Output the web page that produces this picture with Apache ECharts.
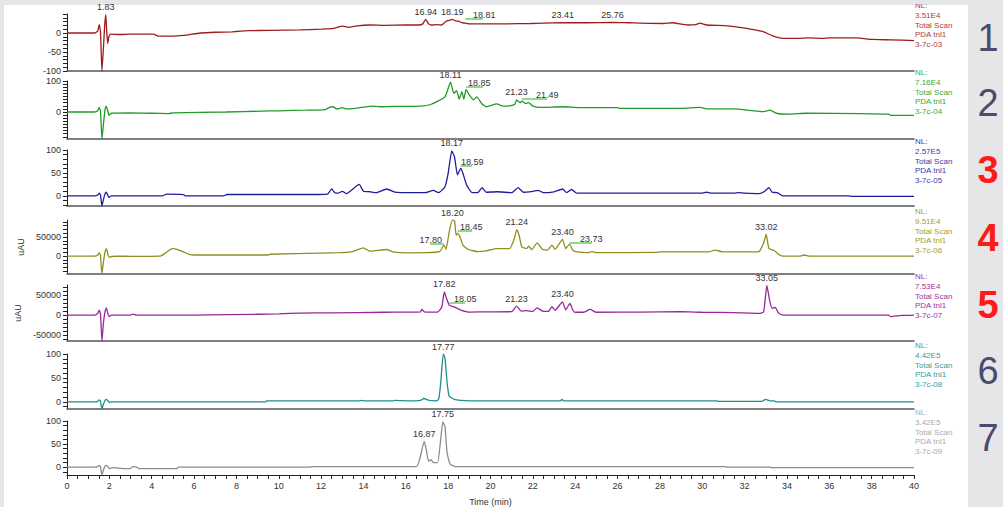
<!DOCTYPE html>
<html><head><meta charset="utf-8">
<style>
html,body{margin:0;padding:0;background:#e6e6e8;overflow:hidden;}
#paper{position:absolute;left:4px;top:5px;width:964px;height:502px;background:#ffffff;}
#c{position:absolute;left:0;top:0;width:1003px;height:507px;}
</style>
<script src="https://cdn.jsdelivr.net/npm/echarts@6/dist/echarts.min.js"></script>
</head><body><div id="paper"></div><div id="c"></div>
<script>
// ---------- DATA (time in min, response) ----------
const trace1 = [[0,0],[1.3,0],[1.45,5],[1.52,22],[1.58,5],[1.65,-100],[1.72,-40],[1.78,20],[1.83,48],[1.87,10],[1.92,-28],[1.98,-10],[2.05,-3],[2.5,-4],[3.0,-3],[4.1,-3],[4.3,-8],[5.0,-8],[5.5,-6],[6.3,0],[7.0,2],[7.8,3],[8.0,4],[8.6,6],[9.5,7],[11.0,8],[12.0,10],[12.6,12],[13.0,18],[13.3,15],[13.7,19],[14.3,21],[15.0,20],[16.0,21],[16.6,21],[16.8,24],[16.94,36],[17.08,24],[17.2,21],[17.5,22],[17.7,21],[17.9,31],[18.05,33],[18.19,36],[18.35,32],[18.5,31],[18.65,27],[18.81,26],[19.0,24],[19.65,24],[20.6,24],[21.9,25],[22.5,26],[23.41,27],[24.5,27],[25.78,28],[26.5,27],[28.15,25],[28.6,27],[29.3,21],[29.7,22],[29.89,26],[30.2,21],[31.2,19],[32.1,12],[32.5,8],[32.9,3],[33.3,-7],[33.8,-14],[34.5,-14],[35.0,-13],[35.7,-14],[36.0,-13],[37.3,-13],[38.0,-17],[38.9,-18],[40,-20]];
const trace2 = [[0,0],[1.3,0],[1.45,4],[1.52,15],[1.58,4],[1.65,-87],[1.72,-40],[1.8,10],[1.85,19],[1.92,5],[1.98,-10],[2.1,-4],[3.0,-3],[4.0,-4],[4.8,-5],[5.0,-3],[7.5,0],[9.2,3],[10.0,4],[11.3,6],[12.2,8],[12.4,15],[12.55,17],[12.75,10],[13.0,14],[13.2,10],[13.5,11],[14.4,19],[14.8,17],[15.5,18],[16.7,19],[17.2,25],[17.85,49],[18.11,96],[18.27,60],[18.4,69],[18.52,42],[18.65,66],[18.74,42],[18.85,73],[19.0,55],[19.2,39],[19.35,49],[19.6,26],[19.8,17],[20.3,26],[20.6,19],[20.9,20],[21.15,25],[21.23,39],[21.4,30],[21.49,35],[21.65,28],[21.8,30],[22.0,19],[22.4,15],[23.4,17],[24.2,14],[26.0,14],[26.1,12],[28.6,12],[29.0,12],[29.9,15],[30.2,10],[31.5,10],[32.9,1],[33.2,6],[33.5,-4],[34.1,-7],[34.9,-4],[37.5,-5],[38.8,-7],[38.9,-11],[40,-11]];
const trace3 = [[0,0],[1.3,0],[1.45,2],[1.52,6],[1.58,2],[1.65,-22],[1.72,-8],[1.8,5],[1.85,8],[1.92,2],[1.98,-3],[2.1,0],[4.5,0],[4.7,4],[5.5,3],[5.6,0],[7.4,0],[7.55,3],[11.5,3],[12.3,4],[12.5,15],[12.65,7],[12.8,6],[13.0,10],[13.2,5],[13.8,25],[14.0,10],[14.3,9],[14.6,7],[15.1,15],[15.5,8],[16.0,7],[16.9,7],[17.3,12],[17.55,7],[17.85,20],[18.0,49],[18.17,98],[18.3,85],[18.44,46],[18.59,60],[18.7,49],[18.87,24],[19.1,8],[19.4,7],[19.6,18],[19.8,8],[20.3,9],[21.0,7],[21.3,18],[21.55,8],[22.0,10],[22.25,12],[22.5,7],[23.0,9],[23.4,15],[23.6,7],[23.83,14],[24.07,6],[25.0,6],[30.0,6],[30.2,8],[30.4,6],[31.5,6],[31.7,7],[32.0,6],[32.7,5],[32.95,10],[33.15,18],[33.3,8],[33.55,7],[33.8,0],[36.9,0],[37.1,-1],[40,-1]];
const trace4 = [[0,0],[1.3,0],[1.45,3000],[1.52,8700],[1.58,3000],[1.65,-47000],[1.72,-15000],[1.8,12000],[1.86,20000],[1.93,5000],[1.99,-3500],[2.1,-1000],[2.5,0],[3.0,-500],[4.4,0],[4.6,6000],[4.85,17000],[5.0,20000],[5.2,18000],[5.5,11000],[5.8,4000],[6.0,3000],[9.5,3000],[9.6,5000],[12.0,8000],[12.9,9000],[13.4,11000],[14.0,22000],[14.3,13000],[15.1,17500],[15.4,11000],[16.2,8700],[17.0,9000],[17.6,12000],[17.8,29000],[17.9,18000],[18.05,64000],[18.2,95000],[18.3,93000],[18.38,55000],[18.45,60000],[18.55,52000],[18.7,29000],[18.95,17500],[19.4,12000],[19.8,14000],[20.3,20000],[20.9,20000],[21.1,42000],[21.24,70000],[21.35,55000],[21.48,24000],[21.7,20000],[21.8,26000],[21.95,17000],[22.2,35000],[22.45,18000],[22.7,16000],[22.9,29000],[23.05,18000],[23.4,44000],[23.55,20000],[23.73,31500],[23.9,15000],[24.1,11000],[24.6,9000],[24.8,12000],[25.0,9000],[27.8,10000],[28.0,11000],[30.3,11000],[30.6,16000],[31.0,11000],[32.4,11000],[32.7,13000],[32.9,35000],[33.02,57000],[33.15,20000],[33.4,15000],[33.6,5000],[33.8,0],[34.6,0],[34.8,3000],[35.1,0],[40,0]];
const trace5 = [[0,0],[1.3,0],[1.45,4000],[1.52,12500],[1.58,3000],[1.65,-65000],[1.72,-20000],[1.8,10000],[1.86,18000],[1.93,4000],[1.99,-4000],[2.1,0],[3.0,0],[3.1,2500],[3.3,0],[6.0,0],[9.0,2000],[10.0,3000],[11.0,5000],[12.5,5500],[15.0,7000],[16.0,7500],[16.7,8000],[16.75,14000],[16.9,7500],[17.5,7500],[17.7,20000],[17.82,58000],[17.92,42000],[18.05,25000],[18.3,20000],[18.6,12500],[19.0,7500],[20.0,8000],[21.0,8500],[21.23,22500],[21.45,10000],[21.7,11000],[22.0,9000],[22.2,18000],[22.5,9000],[22.75,10000],[22.9,21000],[23.05,12000],[23.4,33000],[23.55,13000],[23.75,29000],[23.95,7500],[24.4,7000],[24.7,14000],[25.0,7000],[27.0,7500],[29.0,8500],[30.0,7000],[31.5,6000],[32.7,4000],[32.9,8000],[33.05,74000],[33.18,37500],[33.3,17000],[33.45,19000],[33.6,5000],[33.8,0],[38.8,0],[38.9,-4000],[39.4,-1000],[40,0]];
const trace6 = [[0,0],[1.3,0],[1.45,1],[1.52,4],[1.58,1],[1.65,-15],[1.72,-5],[1.8,3],[1.87,5],[1.95,1],[2.0,-1],[2.1,0],[9.38,0],[9.42,2],[13.8,2],[13.9,3],[14.0,2],[15.4,2],[15.5,3],[16.2,2],[16.7,3],[16.85,7],[17.1,3],[17.4,2],[17.55,5],[17.65,40],[17.77,100],[17.85,92],[17.95,40],[18.05,12],[18.3,5],[18.6,3],[19.0,2],[23.3,2],[23.38,5],[23.45,2],[30.7,2],[30.75,1],[32.8,1],[33.0,5],[33.2,2],[33.4,2],[33.5,0],[40,0]];
const trace7 = [[0,0],[1.3,0],[1.45,1],[1.52,4],[1.58,1],[1.65,-17],[1.72,-6],[1.8,2],[1.87,4],[1.95,0],[2.0,-3],[2.2,-1],[2.7,-3],[3.0,-3],[3.1,1],[3.3,0],[3.4,-3],[5.2,-3],[5.25,0],[11.5,0],[11.55,1],[16.5,1],[16.65,16],[16.87,56],[16.97,38],[17.07,13],[17.2,16],[17.3,10],[17.5,10],[17.63,52],[17.75,98],[17.85,88],[17.95,31],[18.1,6],[18.4,1],[31.1,1],[31.15,0],[33.2,0],[33.25,-1],[40,-1]];

// peak labels: [text, time, height]
const peaks1 = [['1.83',1.83,48],['16.94',16.94,36],['18.19',18.19,36],['23.41',23.41,27],['25.76',25.76,28]];
const peaks2 = [['18.11',18.11,96],['21.23',21.23,39]];
const peaks3 = [['18.17',18.17,98]];
const peaks4 = [['18.20',18.20,95000],['21.24',21.24,70000],['23.40',23.40,44000],['33.02',33.02,57000]];
const peaks5 = [['17.82',17.82,58000],['21.23',21.23,22500],['23.40',23.40,33000],['33.05',33.05,74000]];
const peaks6 = [['17.77',17.77,100]];
const peaks7 = [['16.87',16.87,56],['17.75',17.75,98]];
// underlined labels: [text, line start, line end, level, text anchor time, side]
const tagged1 = [['18.81',18.81,19.65,37,19.17,'r']];
const tagged2 = [['18.85',18.85,19.65,81,18.94,'r'],['21.49',21.49,22.67,42,22.15,'r']];
const tagged3 = [['18.59',18.59,19.13,65,18.61,'r']];
const tagged4 = [['17.80',17.14,17.80,31600,17.71,'l'],['18.45',18.45,19.13,65800,18.56,'r'],['23.73',23.73,24.79,34200,24.23,'r']];
const tagged5 = [['18.05',18.05,18.80,30750,18.28,'r']];
const tagged6 = [];
const tagged7 = [];

const nlValues = ['3.51E4','7.16E4','2.57E5','9.51E4','7.53E4','4.42E5','3.42E5'];
const fileCodes = ['3-7c-03','3-7c-04','3-7c-05','3-7c-06','3-7c-07','3-7c-08','3-7c-09'];
const panelNumbers = ['1','2','3','4','5','6','7'];
const yRange = [[-100,50],[-87,100],[-22,100],[-47000,95100],[-65000,75300],[-15,100],[-17,100]];
const yLabelValues = [[0,-50,-100],[100,0],[100,50,0],[50000,0],[50000,0,-50000],[100,50,0],[100,50,0]];
const yUnits = ['','','','uAU','uAU','',''];

// ---------- STYLE ----------
const traces = [trace1,trace2,trace3,trace4,trace5,trace6,trace7];
const peaks = [peaks1,peaks2,peaks3,peaks4,peaks5,peaks6,peaks7];
const tagged = [tagged1,tagged2,tagged3,tagged4,tagged5,tagged6,tagged7];
const yStep = [10,10,10,10000,10000,10,10];
const traceColors = ['#9c1c1c','#229a2a','#1e1e9a','#8f8f1e','#982898','#1e8e8e','#8c8c8c'];
const infoColors = ['#b03a3a','#3aa83a','#3a3aaa','#a0a032','#a032a0','#32a0a0','#aaaaaa'];
const panelTop = [14,81,150,220,285,354,421];
const panelBottom = [71,139,206,274,341,409,476];
const numberY = [38,103,170,238,305,371,438];
const numberRed = [false,false,true,true,true,false,false];
const FONT = '"Liberation Sans", Arial, sans-serif';
const L = 67, R = 914;

const grids = [], xAxes = [], yAxes = [], series = [], graphics = [];
for (let i = 0; i < 7; i++) {
  grids.push({left: L, width: R - L, top: panelTop[i], height: panelBottom[i] - panelTop[i]});
  const last = i === 6;
  xAxes.push({
    type: 'value', gridIndex: i, min: 0, max: 40, interval: 2,
    axisLine: {show: true, onZero: false, lineStyle: {color: last ? '#222' : '#555', width: last ? 1.2 : 1.5}},
    axisTick: {show: last, length: 4, lineStyle: {color: '#222'}},
    minorTick: {show: last, splitNumber: 4, length: 4, lineStyle: {color: '#222'}},
    axisLabel: {show: last, fontSize: 9, color: '#333', margin: 6, fontFamily: FONT},
    splitLine: {show: false},
    name: last ? 'Time (min)' : '', nameLocation: 'middle', nameGap: 22,
    nameTextStyle: {fontSize: 9, color: '#333', fontFamily: FONT}
  });
  const ticks = [];
  const st = yStep[i];
  for (let v = Math.ceil(yRange[i][0] / st) * st; v <= yRange[i][1] + 1e-9; v += st) ticks.push(v);
  yAxes.push({
    type: 'value', gridIndex: i, min: yRange[i][0], max: yRange[i][1],
    axisLine: {show: true, onZero: false, lineStyle: {color: '#222', width: 1}},
    axisTick: {show: true, length: 4, customValues: ticks, lineStyle: {color: '#222'}},
    axisLabel: {show: true, customValues: yLabelValues[i], formatter: v => String(v),
      fontSize: 9, color: '#333', margin: 6, fontFamily: FONT},
    splitLine: {show: false},
    name: yUnits[i], nameLocation: 'middle', nameGap: 30, nameRotate: 90,
    nameTextStyle: {fontSize: 9, color: '#333', fontFamily: FONT}
  });
  const mpData = peaks[i].map(p => ({name: p[0], coord: [p[1], p[2]], label: {position: 'top', distance: 3}}));
  tagged[i].forEach(a => mpData.push({name: a[0], coord: [a[4], a[3]],
    label: {position: a[5] === 'r' ? 'right' : 'left', distance: 0, offset: [0, -4]}}));
  series.push({
    type: 'line', xAxisIndex: i, yAxisIndex: i, data: traces[i], showSymbol: false,
    symbol: 'none', smooth: 0.15, clip: true,
    lineStyle: {color: traceColors[i], width: 1.3},
    markPoint: {
      symbol: 'circle', symbolSize: 0, silent: true, animation: false,
      itemStyle: {color: 'rgba(0,0,0,0)'},
      label: {show: true, formatter: p => p.name, fontSize: 9, color: '#333', fontFamily: FONT},
      data: mpData
    },
    markLine: {
      symbol: ['none', 'none'], silent: true, animation: false,
      lineStyle: {color: '#6ccb6c', width: 1.5, type: 'solid'},
      label: {show: false},
      data: tagged[i].map(a => [{coord: [a[1], a[3]]}, {coord: [a[2], a[3]]}])
    }
  });
  // right-side info text
  const top = panelTop[i];
  const lines = [['NL:', -8], [nlValues[i], 1.5], ['Total Scan', 12], ['PDA tnl1', 21], [fileCodes[i], 30.5]];
  lines.forEach(([t, dy]) => graphics.push({
    type: 'text', left: R + 1, top: top + dy - 4.5, z: 10,
    style: {text: t, fill: infoColors[i], font: '8px ' + FONT}
  }));
  graphics.push({
    type: 'text', z: 10, x: 988, y: numberY[i],
    style: {text: panelNumbers[i], fill: numberRed[i] ? '#ff1a1a' : '#4b4b6b',
      font: (numberRed[i] ? 'bold ' : '') + '38px ' + FONT, textAlign: 'center', textVerticalAlign: 'middle'}
  });
}
// top texture band covering the clipped "NL:"
graphics.push({type: 'rect', z: 20, shape: {x: 0, y: 0, width: 1003, height: 4}, style: {fill: '#e6e6e8'}});

const chart = echarts.init(document.getElementById('c'), null, {renderer: 'svg'});
chart.setOption({
  animation: false,
  backgroundColor: 'transparent',
  grid: grids, xAxis: xAxes, yAxis: yAxes, series: series, graphic: graphics
});
</script>
</body></html>
